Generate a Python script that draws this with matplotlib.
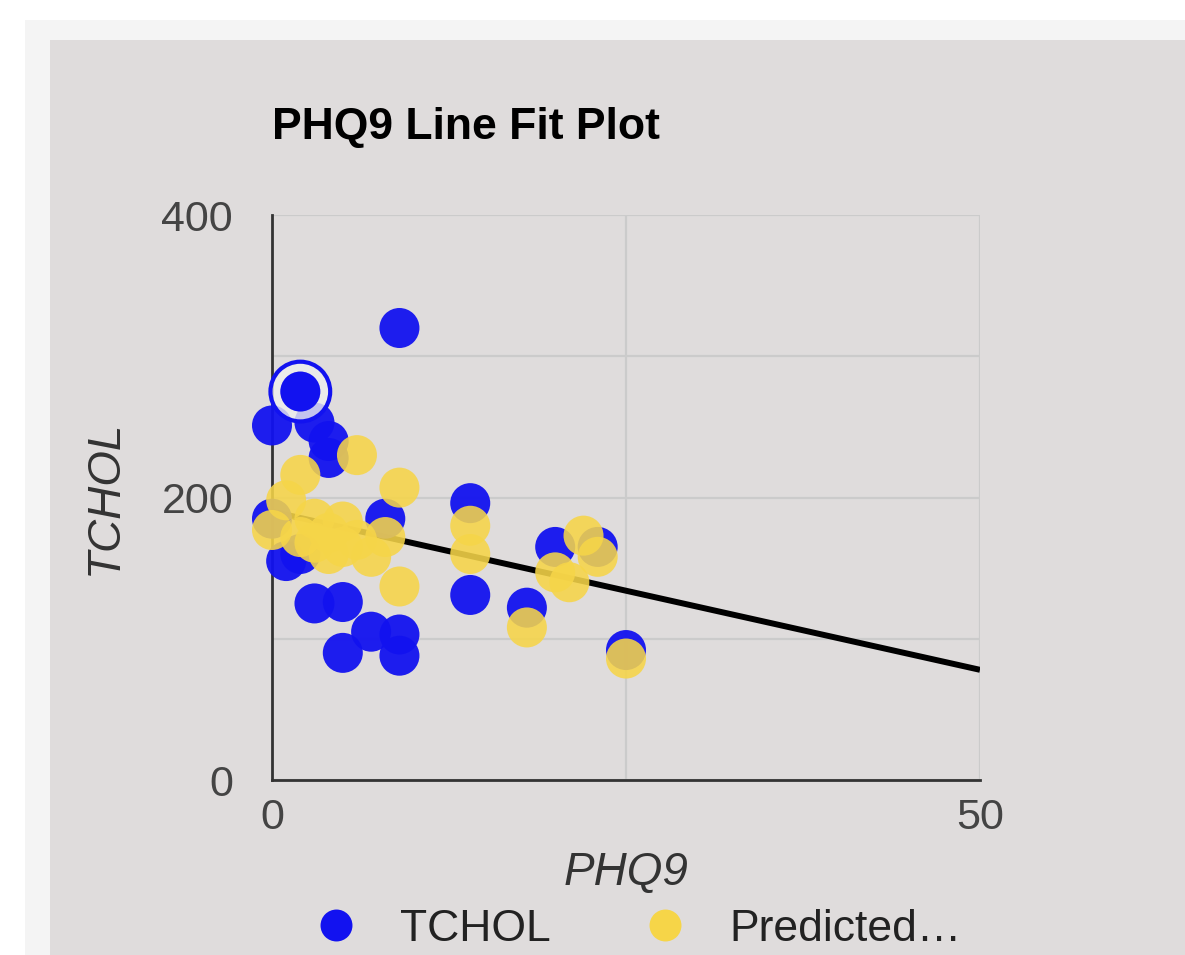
import matplotlib.pyplot as plt
from matplotlib.patches import Rectangle
from matplotlib.lines import Line2D

plt.rcParams['font.family'] = ['Liberation Sans', 'DejaVu Sans']

# TCHOL observations (blue)
tchol_x = [9, 2, 0, 3, 4, 4, 0, 1, 2, 3, 5, 7, 9, 5, 9, 8, 14, 14, 18, 20, 23, 25]
tchol_y = [320, 275, 251, 253, 240, 228, 185, 155, 160, 125, 126, 105, 103, 90, 88, 185,
           196, 131, 122, 165, 165, 92]

# predicted TCHOL (yellow)
pred_x = [6, 2, 9, 1, 0, 3, 5, 4, 3, 4, 5, 6, 2, 8, 7, 9, 14, 14, 18, 20, 21, 22, 23, 25]
pred_y = [230, 216, 207, 198, 177, 185, 183, 175, 168, 160, 165, 170, 172, 172, 158, 137,
          180, 160, 108, 147, 140, 173, 158, 86]

# trendline end points
fit_x = [0, 50]
fit_y = [190, 78]

# hovered point
hl_x, hl_y = 2, 275

blue = '#1212f0'
yellow = '#f6d548'
panel = '#dfdcdc'

fig = plt.figure(figsize=(11.85, 9.55), dpi=100)
fig.patch.set_facecolor('white')
fig.patches.append(Rectangle((25/1185, 0), 1, 1 - 20/955, transform=fig.transFigure,
                             facecolor='#f4f4f4', edgecolor='none', zorder=-3))
fig.patches.append(Rectangle((50/1185, 0), 1, 1 - 40/955, transform=fig.transFigure,
                             facecolor=panel, edgecolor='none', zorder=-2))

ax = fig.add_axes([272/1185, 1 - 780/955, 708/1185, 565/955])
ax.set_facecolor('none')

ax.plot(fit_x, fit_y, color='black', lw=4.3, solid_capstyle='butt', zorder=2)
ax.scatter(tchol_x, tchol_y, s=830, color=blue, alpha=0.95, edgecolors='none', zorder=3,
           clip_on=False)
# hover highlight: light halo, point again, ring
ax.scatter([hl_x], [hl_y], s=1850, color='#eeeeee', alpha=0.8, edgecolors='none', zorder=3.1,
           clip_on=False)
ax.scatter([hl_x], [hl_y], s=830, color=blue, edgecolors='none', zorder=3.2, clip_on=False)
ax.scatter([hl_x], [hl_y], s=1850, facecolors='none', edgecolors=blue, linewidths=3, zorder=3.3,
           clip_on=False)
ax.scatter(pred_x, pred_y, s=830, color=yellow, alpha=0.88, edgecolors='none', zorder=4,
           clip_on=False)

ax.set_xlim(0, 50)
ax.set_ylim(0, 400)
ax.set_xticks([0, 50])
ax.set_xticks([25], minor=True)
ax.set_yticks([0, 200, 400])
ax.set_yticks([100, 300], minor=True)
ax.grid(True, which='both', color='#cbcbcb', lw=1.6, zorder=0)
ax.set_axisbelow(True)
ax.tick_params(which='both', length=0)
ax.tick_params(axis='y', pad=28, labelsize=31, labelcolor='#444444')
ax.tick_params(axis='x', pad=13, labelsize=31, labelcolor='#444444')

for s in ['top', 'right']:
    ax.spines[s].set_visible(False)
for s in ['left', 'bottom']:
    ax.spines[s].set_color('#333333')
    ax.spines[s].set_linewidth(2)
    ax.spines[s].set_zorder(1)

ax.set_xlabel('PHQ9', fontsize=33, style='italic', color='#333333')
ax.xaxis.set_label_coords(0.5, -0.125)
ax.set_ylabel('TCHOL', fontsize=33, style='italic', color='#333333', ha='center', va='center')
ax.yaxis.set_label_coords(-0.236, 0.5)

fig.text(272/1185, 1 - 128/955, 'PHQ9 Line Fit Plot', fontsize=32, fontweight='bold',
         ha='left', va='center', color='black')

handles = [Line2D([], [], ls='none', marker='o', markersize=23, color=blue, markeredgewidth=0),
           Line2D([], [], ls='none', marker='o', markersize=23, color=yellow, markeredgewidth=0)]
fig.legend(handles, ['TCHOL', 'Predicted…'], loc='center', bbox_to_anchor=(0.538, 1 - 929/955),
           ncol=2, frameon=False, fontsize=32, handlelength=1, handletextpad=0.95,
           columnspacing=2.05, labelcolor='#222222')

fig.savefig('out.png', dpi=100)
